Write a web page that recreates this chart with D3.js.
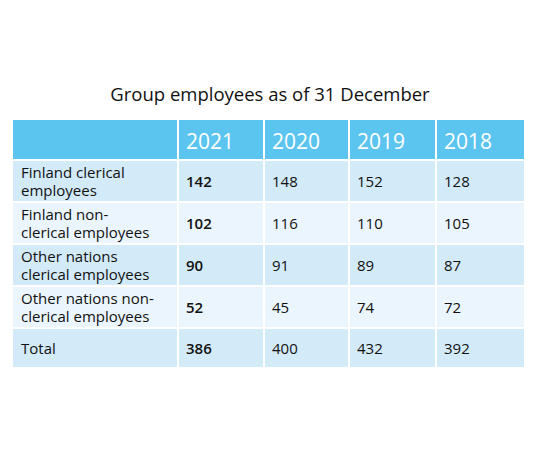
<!DOCTYPE html><html><head><meta charset="utf-8"><script src="https://cdn.jsdelivr.net/npm/d3@7"></script>
<style>body{margin:0;background:#fff}</style></head><body><svg id="c" width="540" height="460"></svg>
<script>
const title = "Group employees as of 31 December";
const years = ["2021","2020","2019","2018"];
const rowLabels = [["Finland clerical","employees"],["Finland non-","clerical employees"],["Other nations","clerical employees"],["Other nations non-","clerical employees"],["Total"]];
const v2021 = [142,102,90,52,386];
const v2020 = [148,116,91,45,400];
const v2019 = [152,110,89,74,432];
const v2018 = [128,105,87,72,392];
const cols = [v2021,v2020,v2019,v2018];
const svg = d3.select("#c");
const F = "'Open Sans', sans-serif";
svg.append("text").attr("x",270).attr("y",101).attr("text-anchor","middle").attr("font-family",F).attr("font-size",18.5).attr("fill","#111").text(title);
const xEdges = [13,178,264,349,436,524];
const colX = i=>xEdges[i], colW=i=>xEdges[i+1]-xEdges[i];
const yEdges=[120,160,202,244,286,328,368];
for(let c=0;c<5;c++){
  svg.append("rect").attr("x",colX(c)+(c?1:0)).attr("y",yEdges[0]).attr("width",colW(c)-(c?1:0)-(c<4?1:0)).attr("height",yEdges[1]-yEdges[0]-1).attr("fill","#5bc5f0");
  if(c) svg.append("text").attr("x",colX(c)+8).attr("y",149).attr("font-family",F).attr("font-size",21).attr("fill","#fff").text(years[c-1]);
}
rowLabels.forEach((lab,r)=>{
  const y0=yEdges[r+1], y1=yEdges[r+2];
  const fill = r%2===0?"#d3eaf9":"#ebf5fd";
  for(let c=0;c<5;c++){
    svg.append("rect").attr("x",colX(c)+(c?1:0)).attr("y",y0+1).attr("width",colW(c)-(c?1:0)-(c<4?1:0)).attr("height",y1-y0-2).attr("fill",fill);
  }
  const mid=(y0+y1)/2;
  const t=svg.append("text").attr("font-family",F).attr("font-size",15).attr("fill","#111");
  if(lab.length===2){
    t.append("tspan").attr("x",21).attr("y",mid-3).text(lab[0]);
    t.append("tspan").attr("x",21).attr("y",mid+15).text(lab[1]);
  } else t.attr("x",21).attr("y",mid+6).text(lab[0]);
  cols.forEach((col,c)=>{
    svg.append("text").attr("x",colX(c+1)+8).attr("y",mid+6).attr("font-family",F).attr("font-size",15)
      .attr("font-weight",c===0?600:"normal").attr("fill","#111").text(col[r]);
  });
});
</script></body></html>
